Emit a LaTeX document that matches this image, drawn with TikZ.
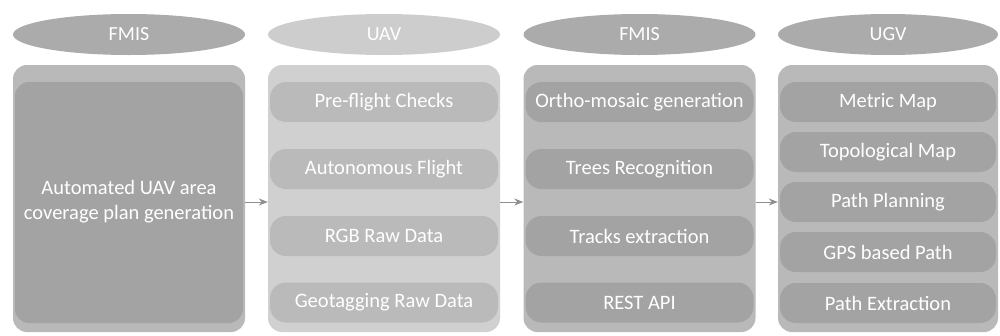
\documentclass[tikz,border=0pt]{standalone}
\usepackage{fontspec}
\setmainfont{Carlito}
\usetikzlibrary{shapes.geometric,arrows.meta}
\definecolor{ellA}{HTML}{ABABAB}
\definecolor{ellB}{HTML}{CDCDCD}
\definecolor{panA}{HTML}{B9B9B9}
\definecolor{panB}{HTML}{D0D0D0}
\definecolor{itmA}{HTML}{A3A3A3}
\definecolor{itmB}{HTML}{BABABA}
\definecolor{arr}{HTML}{8E8E8E}
\tikzset{
  hdr/.style={ellipse, inner sep=0pt, minimum height=41pt, text=white, font=\fontsize{20}{23}\selectfont},
  panelbox/.style={rectangle, rounded corners=14pt, inner sep=0pt, minimum height=267pt},
  itembox/.style={rectangle, rounded corners=16pt, inner sep=0pt, minimum height=40pt, text=white, font=\fontsize{20.5}{24}\selectfont},
  flow/.style={draw=arr, line width=0.9pt, -{Stealth[length=9pt,width=7pt]}}
}
\begin{document}
\begin{tikzpicture}[x=1pt,y=-1pt]
\useasboundingbox (0,0) rectangle (1000,335);
% headers
\node[hdr, fill=ellA, minimum width=232pt] (h1) at (129,34.5) {FMIS};
\node[hdr, fill=ellB, minimum width=232pt] (h2) at (384,34.5) {UAV};
\node[hdr, fill=ellA, minimum width=232pt] (h3) at (639.5,34.5) {FMIS};
\node[hdr, fill=ellA, minimum width=220pt] (h4) at (888,34.5) {UGV};
% panels
\node[panelbox, fill=panA, minimum width=232pt] (p1) at (129,198.5) {};
\node[panelbox, fill=panB, minimum width=232pt] (p2) at (384,198.5) {};
\node[panelbox, fill=panA, minimum width=232pt] (p3) at (639.5,198.5) {};
\node[panelbox, fill=panA, minimum width=220pt] (p4) at (888,198.5) {};
% panel 1 content
\node[rectangle, rounded corners=14pt, fill=itmA, minimum width=228pt, minimum height=241pt, inner sep=0pt] (m1) at (129,202.5) {};
\node[text=white, align=center, font=\fontsize{20.5}{25}\selectfont] (t1) at (129,202) {Automated UAV area\\coverage plan generation};
% panel 2 items
\node[itembox, fill=itmB, minimum width=228pt] (a1) at (384,102) {Pre-flight Checks};
\node[itembox, fill=itmB, minimum width=228pt] (a2) at (384,169) {Autonomous Flight};
\node[itembox, fill=itmB, minimum width=228pt] (a3) at (384,236) {RGB Raw Data};
\node[itembox, fill=itmB, minimum width=228pt] (a4) at (384,302.5) {Geotagging Raw Data};
% panel 3 items
\node[itembox, fill=itmA, minimum width=228pt] (b1) at (639.5,102) {Ortho-mosaic generation};
\node[itembox, fill=itmA, minimum width=228pt] (b2) at (639.5,169) {Trees Recognition};
\node[itembox, fill=itmA, minimum width=228pt] (b3) at (639.5,236) {Tracks extraction};
\node[itembox, fill=itmA, minimum width=228pt] (b4) at (639.5,302.5) {REST API};
% panel 4 items
\node[itembox, fill=itmA, minimum width=216pt] (c1) at (888,102) {Metric Map};
\node[itembox, fill=itmA, minimum width=216pt] (c2) at (888,152) {Topological Map};
\node[itembox, fill=itmA, minimum width=216pt] (c3) at (888,202) {Path Planning};
\node[itembox, fill=itmA, minimum width=216pt] (c4) at (888,252) {GPS based Path};
\node[itembox, fill=itmA, minimum width=216pt] (c5) at (888,303) {Path Extraction};
% arrows
\draw[flow] ([yshift=-3.5pt]p1.east) -- ([yshift=-3.5pt]p2.west);
\draw[flow] ([yshift=-3.5pt]p2.east) -- ([yshift=-3.5pt]p3.west);
\draw[flow] ([yshift=-3.5pt]p3.east) -- ([yshift=-3.5pt]p4.west);
\end{tikzpicture}
\end{document}
